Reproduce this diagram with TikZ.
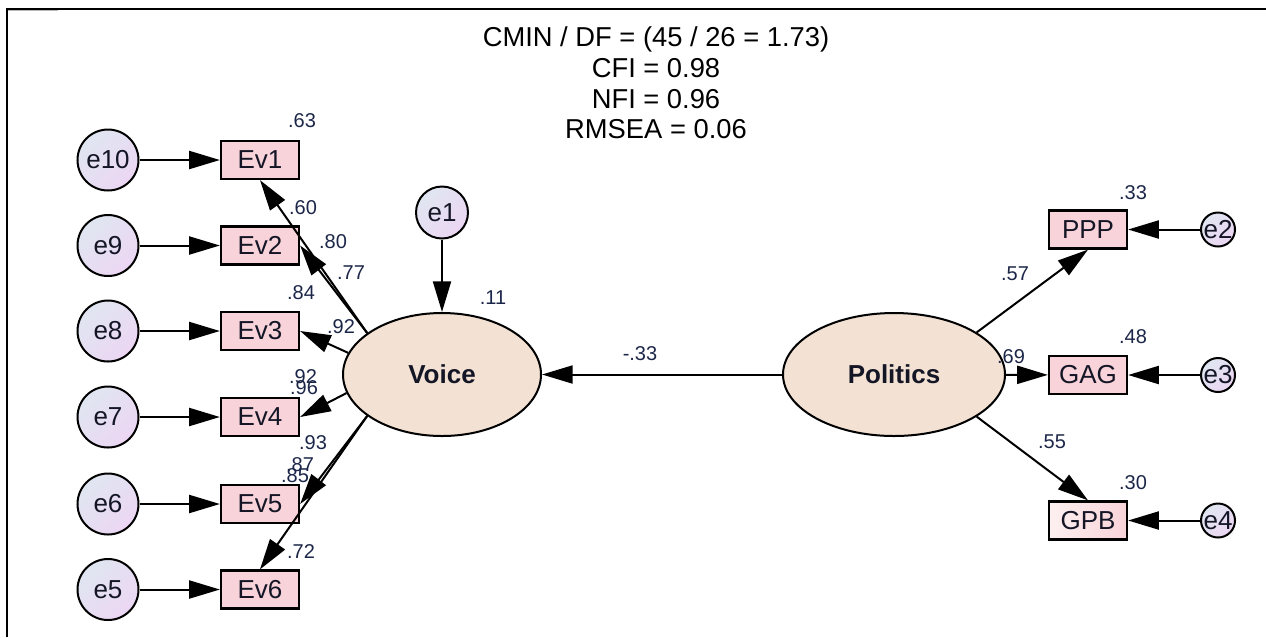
\documentclass[tikz,border=0pt]{standalone}
\usepackage{fontspec}
\setmainfont{Liberation Sans}
\usetikzlibrary{shapes.geometric,arrows.meta}

\definecolor{boxpink}{RGB}{248,211,217}
\definecolor{boxlight}{RGB}{253,240,240}
\definecolor{latfill}{RGB}{243,226,212}
\definecolor{errA}{RGB}{224,230,241}
\definecolor{errB}{RGB}{236,214,243}
\definecolor{numcol}{RGB}{28,38,72}
\definecolor{labcol}{RGB}{20,22,38}

\begin{document}
\begin{tikzpicture}[x=0.75pt,y=-0.75pt,
  font=\fontsize{19.5}{22}\selectfont,
  obs/.style={draw, line width=1.7pt, fill=boxpink, minimum width=58.5pt,
    minimum height=28.5pt, inner sep=0pt, text=labcol},
  err/.style={circle, draw, line width=1.5pt, top color=errA, bottom color=errB,
    shading angle=45, minimum size=45.75pt, inner sep=0pt, text=labcol},
  errmid/.style={err, minimum size=39pt},
  errsm/.style={circle, draw, line width=1.5pt, top color=errA, bottom color=errB,
    shading angle=45, minimum size=25.5pt, inner sep=0pt},
  lat/.style={ellipse, draw, line width=1.5pt, fill=latfill, inner sep=0pt,
    minimum height=92.25pt, text=labcol,
    font=\bfseries\fontsize{19.5}{22}\selectfont},
  arr/.style={-{Triangle[length=23pt,width=13.5pt]}, line width=1.5pt},
  num/.style={font=\fontsize{15}{17}\selectfont, text=numcol, inner sep=0pt},
  fit/.style={font=\fontsize{20.5}{23}\selectfont, align=center, inner sep=0pt}
]
\useasboundingbox (0,0) rectangle (1266,637);

% outer frame
\draw[line width=1.5pt] (7,637) -- (7,9) -- (1266,9);
\draw[gray!55, line width=0.8pt] (7.5,10.8) -- (58,10.8);

% fit indices
\node[fit] (fitidx) at (656,83) {CMIN / DF = (45 / 26 = 1.73)\\CFI = 0.98\\NFI = 0.96\\RMSEA = 0.06};

% latent variables
\node[lat, minimum width=148.5pt] (voice) at (442,374.5) {Voice};
\node[lat, minimum width=166.5pt] (politics) at (894,374.5) {Politics};

% observed indicators of Voice
\node[obs] (ev1) at (260,160)   {Ev1};
\node[obs] (ev2) at (260,245.5) {Ev2};
\node[obs] (ev3) at (260,331)   {Ev3};
\node[obs] (ev4) at (260,417)   {Ev4};
\node[obs] (ev5) at (260,504)   {Ev5};
\node[obs] (ev6) at (260,589.5) {Ev6};

% error terms of Voice indicators
\node[err] (e10) at (108,160)   {e10};
\node[err] (e9)  at (108,245.5) {e9};
\node[err] (e8)  at (108,331)   {e8};
\node[err] (e7)  at (108,417)   {e7};
\node[err] (e6)  at (108,504)   {e6};
\node[err] (e5)  at (108,589.5) {e5};

% disturbance of Voice
\node[errmid] (e1) at (442,212.5) {e1};

% observed indicators of Politics
\node[obs] (ppp) at (1088,229.5) {PPP};
\node[obs] (gag) at (1088,375)   {GAG};
\node[obs, left color=boxlight, right color=boxpink] (gpb) at (1088,520.5) {GPB};

% error terms of Politics indicators
\node[errsm, label={[text=labcol]center:e2}] (e2) at (1218,229.5) {};
\node[errsm, label={[text=labcol]center:e3}] (e3) at (1218,375)   {};
\node[errsm, label={[text=labcol]center:e4}] (e4) at (1218,520.5) {};

% error paths
\foreach \e/\v in {e10/ev1,e9/ev2,e8/ev3,e7/ev4,e6/ev5,e5/ev6,e2/ppp,e3/gag,e4/gpb,e1/voice}
  \draw[arr] (\e) -- (\v);

% loadings of Voice
\draw[arr] (voice.151) -- (ev1.south);
\draw[arr] (voice.151) -- (ev2.east);
\draw[arr] (voice.167) -- (ev3.east);
\draw[arr] (voice.191) -- (ev4.east);
\draw[arr] (voice.209) -- (ev5.east);
\draw[arr] (voice.209) -- (ev6.north);

% loadings of Politics
\draw[arr] (politics.27) -- (ppp.south);
\draw[arr] (politics) -- (gag);
\draw[arr] (politics.-27) -- (gpb.north);

% structural path
\draw[arr] (politics) -- (voice);

% estimates
\node[num] (r63) at (302,121) {.63};
\node[num] (l60) at (303,208) {.60};
\node[num] (l80) at (333,242) {.80};
\node[num] (l77) at (351,273) {.77};
\node[num] (r84) at (301,293) {.84};
\node[num] (l92) at (341,327) {.92};
\node[num] (r92) at (303,377) {.92};
\node[num] (l96) at (304,388) {.96};
\node[num] (l93) at (313,443) {.93};
\node[num] (r87) at (300,465) {.87};
\node[num] (l85) at (295,476) {.85};
\node[num] (r72) at (301,552) {.72};
\node[num] (r11) at (493,298) {.11};
\node[num] (b33) at (640,354) {-.33};
\node[num] (l57) at (1015,274) {.57};
\node[num] (r33) at (1133,193) {.33};
\node[num] (r48) at (1133,337) {.48};
\node[num] (l69) at (1011,357) {.69};
\node[num] (l55) at (1052,442) {.55};
\node[num] (r30) at (1133,483) {.30};
\end{tikzpicture}
\end{document}
